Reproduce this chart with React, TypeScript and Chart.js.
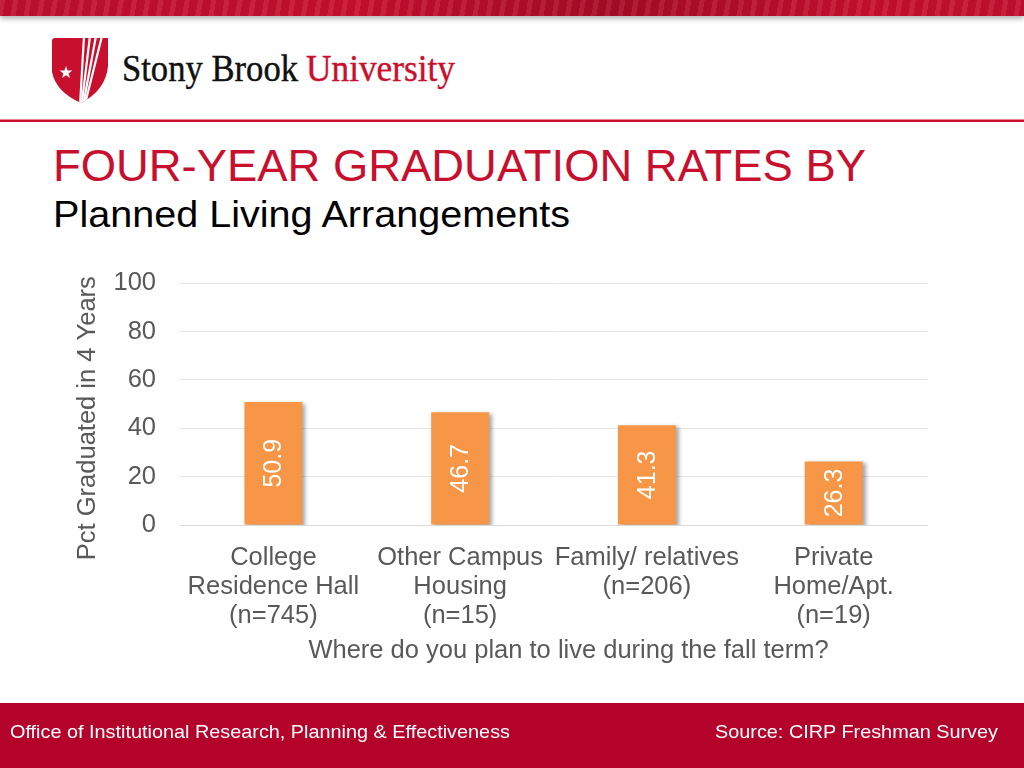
import React, { useEffect, useRef } from "react";
import { Chart, registerables } from "chart.js";

Chart.register(...registerables);

const categories: string[][] = [
  ["College", "Residence Hall", "(n=745)"],
  ["Other Campus", "Housing", "(n=15)"],
  ["Family/ relatives", "(n=206)"],
  ["Private", "Home/Apt.", "(n=19)"],
];
const values: number[] = [50.9, 46.7, 41.3, 26.3];
const yMin = 0;
const yMax = 100;
const yStep = 20;
const yTitle = "Pct Graduated in 4 Years";
const xTitle = "Where do you plan to live during the fall term?";
const mainTitle = "FOUR-YEAR GRADUATION RATES BY";
const subTitle = "Planned Living Arrangements";
const footerLeft = "Office of Institutional Research, Planning & Effectiveness";
const footerRight = "Source: CIRP Freshman Survey";

const FONT = "'Liberation Sans', Arial, Helvetica, sans-serif";
const RED = "#c8102e";
const AXIS_SIZE = 25.5;
const AXIS_COLOR = "#595959";

const shadowPlugin = {
  id: "barShadow",
  beforeDatasetsDraw(chart: any) {
    const ctx = chart.ctx;
    ctx.save();
    ctx.shadowColor = "rgba(0,0,0,0.35)";
    ctx.shadowBlur = 4;
    ctx.shadowOffsetX = 3;
    ctx.shadowOffsetY = 2;
  },
  afterDatasetsDraw(chart: any) {
    chart.ctx.restore();
  },
};

const labelPlugin = {
  id: "barLabels",
  afterDatasetsDraw(chart: any) {
    const ctx = chart.ctx;
    const meta = chart.getDatasetMeta(0);
    const data = chart.data.datasets[0].data as number[];
    ctx.save();
    ctx.fillStyle = "#ffffff";
    ctx.font = `25px ${FONT}`;
    ctx.textAlign = "center";
    ctx.textBaseline = "middle";
    meta.data.forEach((bar: any, i: number) => {
      const cy = (bar.y + bar.base) / 2;
      ctx.save();
      ctx.translate(bar.x, cy);
      ctx.rotate(-Math.PI / 2);
      ctx.fillText(data[i].toFixed(1), 0, 1);
      ctx.restore();
    });
    ctx.restore();
  },
};

const axisTitlePlugin = {
  id: "axisTitles",
  afterDraw(chart: any) {
    const { ctx, chartArea } = chart;
    ctx.save();
    ctx.fillStyle = AXIS_COLOR;
    ctx.font = `${AXIS_SIZE}px ${FONT}`;
    ctx.textAlign = "center";
    ctx.textBaseline = "middle";
    ctx.save();
    ctx.translate(chartArea.left - 92, (chartArea.top + chartArea.bottom) / 2 + 14);
    ctx.rotate(-Math.PI / 2);
    ctx.fillText(yTitle, 0, 0);
    ctx.restore();
    ctx.fillText(xTitle, (chartArea.left + chartArea.right) / 2 + 15, chartArea.bottom + 126);
    ctx.restore();
  },
};

function BarChart() {
  const ref = useRef<HTMLCanvasElement | null>(null);
  useEffect(() => {
    if (!ref.current) return;
    const chart = new Chart(ref.current, {
      type: "bar",
      data: {
        labels: categories,
        datasets: [
          {
            data: values,
            backgroundColor: "#f79646",
            borderWidth: 0,
            barPercentage: 0.31,
            categoryPercentage: 1,
          },
        ],
      },
      options: {
        animation: false,
        responsive: false,
        maintainAspectRatio: false,
        layout: { padding: { left: 13, right: 23, top: 2, bottom: 0 } },
        plugins: {
          legend: { display: false },
          tooltip: { enabled: false },
        },
        scales: {
          x: {
            grid: { display: false, drawTicks: false },
            border: { display: true, color: "#d9d9d9", width: 1 },
            ticks: {
              color: AXIS_COLOR,
              font: { family: FONT, size: AXIS_SIZE, lineHeight: 1.14 },
              padding: 18,
              maxRotation: 0,
              autoSkip: false,
            },
            title: { display: false },
            afterFit: (scale: any) => {
              scale.height = 144;
            },
          },
          y: {
            min: yMin,
            max: yMax,
            grid: { color: "#e6e6e6", drawTicks: false },
            border: { display: false },
            ticks: {
              stepSize: yStep,
              color: AXIS_COLOR,
              font: { family: FONT, size: AXIS_SIZE },
              padding: 24,
            },
            title: { display: false },
            afterFit: (scale: any) => {
              scale.width = 107;
            },
          },
        },
      },
      plugins: [shadowPlugin, labelPlugin, axisTitlePlugin],
    });
    return () => chart.destroy();
  }, []);
  return (
    <canvas
      ref={ref}
      width={890}
      height={425}
      style={{ position: "absolute", left: 60, top: 244, width: 890, height: 425 }}
    />
  );
}

function Logo() {
  const stripesTop = [84, 90, 96, 102];
  return (
    <svg
      width={480}
      height={90}
      viewBox="40 25 480 90"
      style={{ position: "absolute", left: 40, top: 25 }}
    >
      <defs>
        <clipPath id="shieldClip">
          <path d="M52,41 Q52,38 55,38 L108,38 L108,66 Q106,90 81,103 Q56,92 52,72 Z" />
        </clipPath>
      </defs>
      <path d="M52,41 Q52,38 55,38 L108,38 L108,66 Q106,90 81,103 Q56,92 52,72 Z" fill={RED} />
      <g clipPath="url(#shieldClip)" stroke="#ffffff" strokeWidth={2.2}>
        {stripesTop.map((x, i) => (
          <line key={i} x1={x} y1={36} x2={80 + i * 1.5} y2={106} />
        ))}
      </g>
      <polygon
        points="66,66 67.6,70.5 72.3,70.6 68.6,73.4 69.9,78 66,75.3 62.1,78 63.4,73.4 59.7,70.6 64.4,70.5"
        fill="#ffffff"
      />
      <text
        x={122}
        y={81}
        fontFamily="'Liberation Serif', 'DejaVu Serif', serif"
        fontSize={37}
        fill="#111111"
        stroke="#111111"
        strokeWidth={0.4}
        textLength={176}
        lengthAdjust="spacingAndGlyphs"
      >
        Stony Brook
      </text>
      <text
        x={306}
        y={81}
        fontFamily="'Liberation Serif', 'DejaVu Serif', serif"
        fontSize={37}
        fill={RED}
        stroke={RED}
        strokeWidth={0.4}
        textLength={149}
        lengthAdjust="spacingAndGlyphs"
      >
        University
      </text>
    </svg>
  );
}

export default function App() {
  return (
    <div
      style={{
        position: "absolute",
        left: 0,
        top: 0,
        width: 1024,
        height: 768,
        background: "#ffffff",
        overflow: "hidden",
        fontFamily: FONT,
      }}
    >
      <div
        style={{
          position: "absolute",
          left: 0,
          top: 0,
          width: 1024,
          height: 16,
          background:
            "repeating-linear-gradient(100deg, rgba(255,255,255,0.07) 0px, rgba(255,255,255,0.07) 5px, rgba(0,0,0,0.05) 5px, rgba(0,0,0,0.05) 13px), linear-gradient(90deg, #c01030 0%, #c8102e 35%, #a80c26 60%, #c8102e 85%, #c4102e 100%)",
          boxShadow: "0 3px 5px rgba(0,0,0,0.28)",
        }}
      />
      <Logo />
      <div
        style={{
          position: "absolute",
          left: 0,
          top: 119,
          width: 1024,
          height: 1,
          background: "#e88a98",
        }}
      />
      <div
        style={{
          position: "absolute",
          left: 0,
          top: 120,
          width: 1024,
          height: 2,
          background: RED,
        }}
      />
      <svg width={1024} height={768} style={{ position: "absolute", left: 0, top: 0 }}>
        <text
          x={53}
          y={181}
          fontFamily={FONT}
          fontSize={45}
          fill={RED}
          textLength={813}
          lengthAdjust="spacingAndGlyphs"
        >
          {mainTitle}
        </text>
        <text
          x={53}
          y={227}
          fontFamily={FONT}
          fontSize={37}
          fill="#000000"
          textLength={517}
          lengthAdjust="spacingAndGlyphs"
        >
          {subTitle}
        </text>
      </svg>
      <BarChart />
      <div
        style={{
          position: "absolute",
          left: 0,
          top: 703,
          width: 1024,
          height: 65,
          background: "#b4032b",
        }}
      />
      <svg width={1024} height={768} style={{ position: "absolute", left: 0, top: 0 }}>
        <text
          x={10}
          y={738}
          fontFamily={FONT}
          fontSize={19}
          fill="#ffffff"
          textLength={500}
          lengthAdjust="spacingAndGlyphs"
        >
          {footerLeft}
        </text>
        <text
          x={715}
          y={738}
          fontFamily={FONT}
          fontSize={19}
          fill="#ffffff"
          textLength={283}
          lengthAdjust="spacingAndGlyphs"
        >
          {footerRight}
        </text>
      </svg>
    </div>
  );
}
